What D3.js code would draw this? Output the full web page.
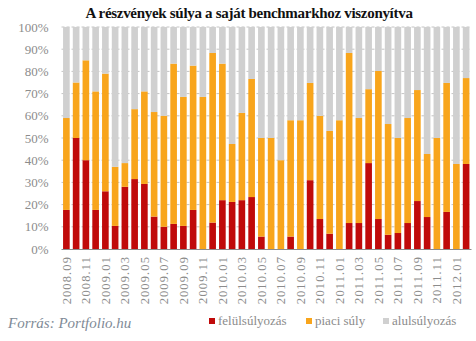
<!DOCTYPE html>
<html><head><meta charset="utf-8">
<script src="https://cdn.jsdelivr.net/npm/d3@7"></script>
<style>body{margin:0;background:#fff}svg{display:block}</style>
</head><body>
<script>
const months = ["2008.09","2008.10","2008.11","2008.12","2009.01","2009.02","2009.03","2009.04","2009.05","2009.06","2009.07","2009.08","2009.09","2009.10","2009.11","2009.12","2010.01","2010.02","2010.03","2010.04","2010.05","2010.06","2010.07","2010.08","2010.09","2010.10","2010.11","2010.12","2011.01","2011.02","2011.03","2011.04","2011.05","2011.06","2011.07","2011.08","2011.09","2011.10","2011.11","2011.12","2012.01","2012.02"];
const felulsulyozas = [17.6,50,40,17.6,26,10.4,28,31.5,29.3,14.6,10,11.3,10.4,17.6,0,11.9,22,21.2,22,23.4,5.6,0,0,5.6,0,31,13.5,6.9,0,11.7,11.7,38.7,13.5,6.4,7.2,11.7,21.6,14.4,0,16.7,0,38.3];
const piaciSuly = [41.4,25,45,53.4,53,26.6,10.7,31.5,41.7,47.1,50,72.2,58.1,65,68.5,76.4,61.5,26.1,39.3,53.2,44.4,50,40,52.4,58,43.8,46.5,46.3,58,76.6,47.3,33.3,66.7,49.9,42.8,47.3,50,28.4,50,58.1,38.3,38.7];
const alulsulyozas = [41,25,15,29,21,63,61.3,37,29,38.3,40,16.5,31.5,17.4,31.5,11.7,16.5,52.7,38.7,23.4,50,50,60,42,42,25.2,40,46.8,42,11.7,41,28,19.8,43.7,50,41,28.4,57.2,50,25.2,61.7,23];
const seriesNames = ["felülsúlyozás","piaci súly","alulsúlyozás"];
const seriesColors = ["#c00a0a","#f8a51c","#d0d0d0"];
const yTicks = [0,10,20,30,40,50,60,70,80,90,100];
const xLabels = months.filter((m,i)=>i%2===0);
const title = "A részvények súlya a saját benchmarkhoz viszonyítva";
const source = "Forrás: Portfolio.hu";

const W=476,H=341;
const svg=d3.select("body").append("svg").attr("width",W).attr("height",H);
const pL=61.5,pR=471,pT=27,pB=249;
const x=d3.scaleBand().domain(months).range([pL,pR]).paddingInner(0.32).paddingOuter(0.16);
const y=d3.scaleLinear().domain([0,100]).range([pB,pT]);

svg.append("text").attr("x",249).attr("y",18).attr("text-anchor","middle")
  .attr("font-family","Liberation Serif, serif").attr("font-weight","bold").attr("font-size",15)
  .attr("letter-spacing",-0.3).attr("fill","#111").text(title);

// grid
svg.append("g").selectAll("line").data(yTicks.filter(d=>d>0)).join("line")
  .attr("x1",pL).attr("x2",pR).attr("y1",d=>y(d)).attr("y2",d=>y(d))
  .attr("stroke","#c4c4c4").attr("stroke-dasharray","3,2").attr("stroke-width",1);

// y labels
const yAxis=d3.axisLeft(y).tickValues(yTicks).tickFormat(d=>d+"%").tickSize(0).tickPadding(0);
const ya=svg.append("g").attr("transform",`translate(${pL-13},0)`).call(yAxis);
ya.select(".domain").remove();
ya.selectAll("text").attr("font-family","Liberation Serif, serif").attr("font-size",13).attr("fill","#8c8c8c");

// stacked data
const rows=months.map((m,i)=>({m,"felülsúlyozás":felulsulyozas[i],"piaci súly":piaciSuly[i],"alulsúlyozás":alulsulyozas[i]}));
const stack=d3.stack().keys(seriesNames)(rows);
svg.append("g").selectAll("g").data(stack).join("g").attr("fill",(d,i)=>seriesColors[i])
  .selectAll("rect").data(d=>d).join("rect")
  .attr("x",d=>x(d.data.m)).attr("width",x.bandwidth())
  .attr("y",d=>y(Math.min(100,d[1]))).attr("height",d=>Math.max(0,y(d[0])-y(Math.min(100,d[1]))));

// x axis
const xAxis=d3.axisBottom(x).tickValues(xLabels).tickSize(0).tickPadding(0);
const xa=svg.append("g").attr("transform",`translate(0,${pB})`).call(xAxis);
xa.select(".domain").attr("stroke","#8c8c8c").attr("d",`M${pL},0.5H${pR+0.5}`);
xa.selectAll("text").attr("font-family","Liberation Serif, serif").attr("font-size",12.5)
  .attr("fill","#8c8c8c").attr("letter-spacing",1.1)
  .attr("text-anchor","end").attr("dy","0.35em").attr("transform","translate(0,7) rotate(-90)").attr("y",0).attr("x",0);

// source
svg.append("text").attr("x",8).attr("y",328).attr("font-family","Liberation Serif, serif")
  .attr("font-style","italic").attr("font-size",15).attr("fill","#7f8b97").text(source);

// legend
const legX=[209,306,383];
const lg=svg.append("g").selectAll("g").data(seriesNames).join("g")
  .attr("transform",(d,i)=>`translate(${legX[i]},0)`);
lg.append("rect").attr("x",0).attr("y",318).attr("width",6).attr("height",6).attr("fill",(d,i)=>seriesColors[i]);
lg.append("text").attr("x",9).attr("y",325).attr("font-family","Liberation Serif, serif").attr("font-size",13)
  .attr("fill","#8c8c8c").attr("letter-spacing",0).text(d=>d);
</script>
</body></html>
